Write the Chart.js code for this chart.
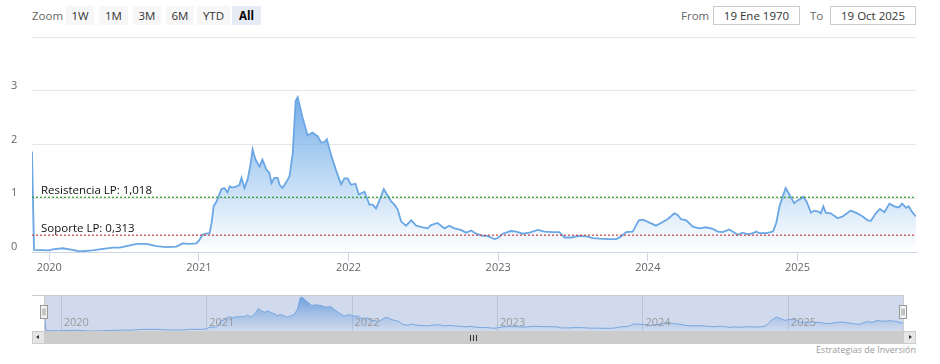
<!DOCTYPE html>
<html>
<head>
<meta charset="utf-8">
<script src="https://cdn.jsdelivr.net/npm/chart.js@4.4.0/dist/chart.umd.min.js"></script>
<style>
body { margin: 0; background: #fff; font-family: "Open Sans", sans-serif; }
#wrap { position: relative; width: 940px; height: 364px; overflow: hidden; }
.lbl { position: absolute; top: 6px; line-height: 19px; color: #666; font-size: 11.5px; }
.btn { position: absolute; top: 6px; height: 19px; line-height: 19px; background: #f7f7f7; color: #333; font-size: 11.5px; text-align: center; }
.btn.sel { background: #e6ebf5; color: #000; font-weight: bold; }
.inp { position: absolute; top: 6px; height: 17px; line-height: 17px; border: 1px solid #ccc; color: #333; font-size: 11.5px; text-align: center; }
#main { position: absolute; left: 0; top: 29px; width: 940px; height: 246px; }
#nav { position: absolute; left: 0; top: 285px; width: 940px; height: 46px; }
.sb { position: absolute; top: 331px; height: 13px; }
#credits { position: absolute; right: 24px; top: 343px; font-size: 9px; color: #999; }
</style>
</head>
<body>
<div id="wrap">
  <div class="lbl" style="left:32px">Zoom</div>
  <div class="btn" style="left:66px;width:28px">1W</div>
  <div class="btn" style="left:99px;width:29px">1M</div>
  <div class="btn" style="left:133px;width:28px">3M</div>
  <div class="btn" style="left:166px;width:28px">6M</div>
  <div class="btn" style="left:197px;width:33px">YTD</div>
  <div class="btn sel" style="left:232px;width:29px">All</div>

  <div class="lbl" style="left:681px">From</div>
  <div class="inp" style="left:713px;width:85px">19 Ene 1970</div>
  <div class="lbl" style="left:810px">To</div>
  <div class="inp" style="left:830px;width:84px">19 Oct 2025</div>

  <div id="main"><canvas id="chartMain"></canvas></div>
  <div id="nav"><canvas id="chartNav"></canvas></div>

  <div class="sb" style="left:32px;width:884px;background:#f2f2f2"></div>
  <div class="sb" style="left:44px;width:858px;background:#cccccc;border-left:1px solid #ccc"></div>
  <div class="sb" style="left:32px;width:11px;background:#e6e6e6;border:1px solid #ccc;height:11px">
    <div style="position:absolute;left:3px;top:3px;width:0;height:0;border-top:2.5px solid transparent;border-bottom:2.5px solid transparent;border-right:3px solid #333"></div>
  </div>
  <div class="sb" style="left:903px;width:11px;background:#e6e6e6;border:1px solid #ccc;height:11px">
    <div style="position:absolute;left:5px;top:3px;width:0;height:0;border-top:2.5px solid transparent;border-bottom:2.5px solid transparent;border-left:3px solid #333"></div>
  </div>
  <div style="position:absolute;left:470px;top:335px;width:1px;height:6px;background:#333"></div>
  <div style="position:absolute;left:473px;top:335px;width:1px;height:6px;background:#333"></div>
  <div style="position:absolute;left:476px;top:335px;width:1px;height:6px;background:#333"></div>

  <div id="credits">Estrategias de Inversión</div>
</div>

<script>
// precio (aprox.)
var dates = [
  '2019-11-20', '2019-11-25', '2020-01-01', '2020-01-09', '2020-02-03', '2020-02-27', '2020-03-15', '2020-04-16',
  '2020-05-03', '2020-06-04', '2020-06-21', '2020-07-08', '2020-08-02', '2020-08-26', '2020-09-19', '2020-10-14',
  '2020-11-07', '2020-11-22', '2020-12-09', '2020-12-26', '2021-01-02', '2021-01-10', '2021-01-19', '2021-01-27',
  '2021-02-01', '2021-02-06', '2021-02-13', '2021-02-18', '2021-02-25', '2021-03-04', '2021-03-12', '2021-03-17',
  '2021-03-24', '2021-04-03', '2021-04-10', '2021-04-15', '2021-04-22', '2021-04-30', '2021-05-07', '2021-05-12',
  '2021-05-19', '2021-05-29', '2021-06-05', '2021-06-15', '2021-06-22', '2021-06-27', '2021-07-04', '2021-07-12',
  '2021-07-17', '2021-07-24', '2021-08-03', '2021-08-10', '2021-08-18', '2021-08-25', '2021-08-30', '2021-09-11',
  '2021-09-23', '2021-10-05', '2021-10-18', '2021-10-26', '2021-11-03', '2021-11-09', '2021-11-20', '2021-12-02',
  '2021-12-14', '2021-12-22', '2021-12-30', '2022-01-07', '2022-01-18', '2022-01-26', '2022-02-09', '2022-02-21',
  '2022-03-01', '2022-03-09', '2022-03-17', '2022-03-28', '2022-04-04', '2022-04-15', '2022-04-23', '2022-05-01',
  '2022-05-09', '2022-05-21', '2022-06-03', '2022-06-15', '2022-07-01', '2022-07-13', '2022-07-21', '2022-08-06',
  '2022-08-23', '2022-09-04', '2022-09-16', '2022-10-02', '2022-10-15', '2022-10-27', '2022-11-08', '2022-11-24',
  '2022-12-06', '2022-12-23', '2022-12-31', '2023-01-12', '2023-02-01', '2023-02-14', '2023-03-02', '2023-03-18',
  '2023-04-08', '2023-04-24', '2023-05-14', '2023-05-30', '2023-06-12', '2023-06-28', '2023-07-18', '2023-08-04',
  '2023-08-20', '2023-09-05', '2023-09-29', '2023-10-16', '2023-10-28', '2023-11-09', '2023-11-25', '2023-12-10',
  '2023-12-20', '2024-01-01', '2024-01-21', '2024-02-02', '2024-02-18', '2024-03-06', '2024-03-14', '2024-03-22',
  '2024-04-04', '2024-04-20', '2024-05-06', '2024-05-22', '2024-06-08', '2024-06-20', '2024-07-02', '2024-07-18',
  '2024-08-08', '2024-08-20', '2024-09-02', '2024-09-14', '2024-09-22', '2024-09-30', '2024-10-17', '2024-11-02',
  '2024-11-10', '2024-11-18', '2024-11-26', '2024-12-03', '2024-12-12', '2024-12-24', '2025-01-01', '2025-01-09',
  '2025-01-15', '2025-01-23', '2025-02-03', '2025-02-11', '2025-02-21', '2025-02-27', '2025-03-05', '2025-03-11',
  '2025-03-23', '2025-04-09', '2025-04-21', '2025-05-11', '2025-05-27', '2025-06-09', '2025-06-21', '2025-06-29',
  '2025-07-11', '2025-07-21', '2025-08-01', '2025-08-13', '2025-08-25', '2025-09-05', '2025-09-13', '2025-09-23',
  '2025-09-29', '2025-10-07', '2025-10-17'
];
var values = [
  1.87, 0.04, 0.03, 0.05, 0.07, 0.04, 0.01, 0.03,
  0.05, 0.08, 0.08, 0.11, 0.15, 0.15, 0.11, 0.09,
  0.10, 0.16, 0.15, 0.16, 0.22, 0.32, 0.34, 0.35,
  0.54, 0.85, 0.94, 1.03, 1.17, 1.19, 1.11, 1.22,
  1.20, 1.22, 1.25, 1.38, 1.19, 1.35, 1.63, 1.91,
  1.72, 1.59, 1.72, 1.53, 1.47, 1.28, 1.38, 1.38,
  1.25, 1.19, 1.31, 1.41, 1.84, 2.81, 2.88, 2.50,
  2.17, 2.22, 2.15, 2.04, 2.04, 2.10, 1.79, 1.51,
  1.26, 1.37, 1.37, 1.25, 1.27, 1.07, 1.12, 0.88,
  0.88, 0.81, 0.95, 1.17, 1.08, 0.94, 0.88, 0.79,
  0.57, 0.49, 0.59, 0.49, 0.46, 0.44, 0.50, 0.54,
  0.44, 0.49, 0.44, 0.41, 0.36, 0.40, 0.34, 0.30,
  0.30, 0.24, 0.26, 0.34, 0.39, 0.38, 0.34, 0.36,
  0.41, 0.38, 0.37, 0.37, 0.27, 0.27, 0.30, 0.29,
  0.26, 0.25, 0.24, 0.24, 0.29, 0.37, 0.38, 0.59,
  0.60, 0.56, 0.49, 0.54, 0.61, 0.72, 0.69, 0.61,
  0.59, 0.47, 0.44, 0.46, 0.43, 0.38, 0.37, 0.42,
  0.32, 0.36, 0.33, 0.35, 0.38, 0.35, 0.35, 0.38,
  0.54, 0.85, 1.03, 1.19, 1.07, 0.91, 0.96, 0.99,
  1.03, 0.94, 0.73, 0.77, 0.75, 0.72, 0.85, 0.73,
  0.72, 0.63, 0.66, 0.77, 0.72, 0.66, 0.59, 0.58,
  0.72, 0.80, 0.74, 0.90, 0.85, 0.83, 0.90, 0.82,
  0.85, 0.75, 0.66
];

var levelNames = ['Resistencia LP', 'Soporte LP'];
var levelValues = [1.018, 0.313];

var yearTicks = [2020, 2021, 2022, 2023, 2024, 2025];
var yearLabels = ['2020', '2021', '2022', '2023', '2024', '2025'];
var yTicks = [0, 1, 2, 3, 4];
var yLabels = ['0', '1', '2', '3', ''];

function toYear(s) {
  var d = Date.parse(s + 'T00:00:00Z');
  var y = parseInt(s.slice(0, 4), 10);
  var a = Date.UTC(y, 0, 1), b = Date.UTC(y + 1, 0, 1);
  return y + (d - a) / (b - a);
}

var points = dates.map(function (d, i) { return { x: toYear(d), y: values[i] }; });
var xMin = points[0].x;
var xMax = points[points.length - 1].x;
var vMax = Math.max.apply(null, values);
var vMin = Math.min.apply(null, values);

function areaFill(c) {
  var ch = c.chart;
  if (!ch.chartArea) return 'rgba(124,181,236,0.4)';
  var top = ch.scales.y.getPixelForValue(vMax);
  var g = ch.ctx.createLinearGradient(0, top, 0, ch.chartArea.bottom);
  g.addColorStop(0, 'rgba(118,174,232,1)');
  g.addColorStop(1, 'rgba(124,181,236,0)');
  return g;
}

function fmt(v) { return v.toFixed(3).replace('.', ','); }

var levelColors = ['#2f9a2f', '#cc3d3d'];
var levelSets = levelValues.map(function (v, i) {
  return {
    data: [{ x: xMin, y: v }, { x: xMax, y: v }],
    borderColor: levelColors[i],
    borderWidth: 1.2,
    borderDash: [2, 2],
    pointRadius: 0,
    fill: false
  };
});

var levelText = {
  id: 'levelText',
  afterDatasetsDraw: function (ch) {
    var ctx = ch.ctx, a = ch.chartArea, y = ch.scales.y;
    ctx.save();
    ctx.font = '11.5px "Open Sans"';
    ctx.fillStyle = '#111';
    ctx.textBaseline = 'middle';
    levelValues.forEach(function (v, i) {
      ctx.fillText(levelNames[i] + ': ' + fmt(v), a.left + 9, y.getPixelForValue(v) - 6.5);
    });
    ctx.restore();
  }
};

Chart.defaults.font.family = '"Open Sans", sans-serif';

var chart = new Chart(document.getElementById('chartMain').getContext('2d'), {
  type: 'line',
  data: {
    datasets: levelSets.concat([{
      data: points,
      borderColor: '#6aa7e4',
      borderWidth: 1.8,
      backgroundColor: areaFill,
      fill: 'origin',
      pointRadius: 0,
      tension: 0
    }])
  },
  options: {
    responsive: true,
    maintainAspectRatio: false,
    animation: false,
    events: [],
    layout: { padding: { left: 11, right: 24, top: 8, bottom: 0 } },
    plugins: { legend: { display: false }, tooltip: { enabled: false } },
    scales: {
      x: {
        type: 'linear',
        min: xMin,
        max: xMax,
        afterBuildTicks: function (s) { s.ticks = yearTicks.map(function (t) { return { value: t }; }); },
        afterFit: function (s) { s.height = 23; s.paddingLeft = 0; s.paddingRight = 0; },
        ticks: {
          autoSkip: false,
          maxRotation: 0,
          padding: 0,
          color: '#666',
          font: { size: 11 },
          callback: function (v) { return yearLabels[yearTicks.indexOf(v)]; }
        },
        grid: { display: true, drawOnChartArea: false, drawTicks: true, tickLength: 9, color: '#ccd6eb' },
        border: { display: true, color: '#ccd6eb', width: 1 }
      },
      y: {
        min: 0,
        max: 4,
        afterBuildTicks: function (s) { s.ticks = yTicks.map(function (t) { return { value: t }; }); },
        afterFit: function (s) { s.width = 21; s.paddingTop = 0; s.paddingBottom = 0; },
        ticks: {
          crossAlign: 'far',
          padding: 0,
          labelOffset: -5,
          color: '#666',
          font: { size: 11 },
          callback: function (v) { return yLabels[yTicks.indexOf(v)]; }
        },
        grid: { color: '#e6e6e6', drawTicks: false, tickLength: 0 },
        border: { display: false }
      }
    }
  },
  plugins: [levelText]
});

// navegador
var navDecor = {
  id: 'navDecor',
  beforeDatasetsDraw: function (ch) {
    var ctx = ch.ctx, a = ch.chartArea, x = ch.scales.x;
    ctx.save();
    ctx.strokeStyle = '#e0e0e0';
    ctx.lineWidth = 1;
    yearTicks.forEach(function (t) {
      var px = Math.round(x.getPixelForValue(t)) + 0.5;
      ctx.beginPath(); ctx.moveTo(px, a.top); ctx.lineTo(px, a.bottom); ctx.stroke();
    });
    ctx.restore();
  },
  afterDatasetsDraw: function (ch) {
    var ctx = ch.ctx, a = ch.chartArea, x = ch.scales.x;
    ctx.save();
    ctx.fillStyle = 'rgba(102,133,194,0.3)';
    ctx.fillRect(a.left, a.top, a.right - a.left, a.bottom - a.top);

    ctx.font = '11px "Open Sans"';
    ctx.fillStyle = '#999';
    ctx.textBaseline = 'middle';
    yearTicks.forEach(function (t, i) {
      ctx.fillText(yearLabels[i], x.getPixelForValue(t) + 3, a.bottom - 8);
    });

    ctx.strokeStyle = '#cccccc';
    ctx.lineWidth = 1;
    ctx.beginPath();
    ctx.moveTo(32, a.top + 0.5); ctx.lineTo(Math.round(a.right) + 0.5, a.top + 0.5);
    ctx.moveTo(Math.round(a.left) + 0.5, a.top); ctx.lineTo(Math.round(a.left) + 0.5, a.bottom);
    ctx.moveTo(Math.round(a.right) + 0.5, a.top); ctx.lineTo(Math.round(a.right) + 0.5, a.bottom);
    ctx.stroke();

    [x.getPixelForValue(xMin), x.getPixelForValue(xMax)].forEach(function (px) {
      var hx = Math.round(px) - 3.5, hy = a.top + 10.5;
      ctx.fillStyle = '#f2f2f2';
      ctx.strokeStyle = '#999';
      ctx.fillRect(hx, hy, 7, 13);
      ctx.strokeRect(hx, hy, 7, 13);
      ctx.beginPath();
      ctx.moveTo(hx + 2.5, hy + 3); ctx.lineTo(hx + 2.5, hy + 10);
      ctx.moveTo(hx + 4.5, hy + 3); ctx.lineTo(hx + 4.5, hy + 10);
      ctx.stroke();
    });
    ctx.restore();
  }
};

var nav = new Chart(document.getElementById('chartNav').getContext('2d'), {
  type: 'line',
  data: {
    datasets: [{
      data: points,
      borderColor: '#7cb5ec',
      borderWidth: 1,
      backgroundColor: areaFill,
      fill: 'origin',
      pointRadius: 0,
      tension: 0
    }]
  },
  options: {
    responsive: true,
    maintainAspectRatio: false,
    animation: false,
    events: [],
    layout: { padding: { left: 44, right: 37, top: 10, bottom: 0 } },
    plugins: { legend: { display: false }, tooltip: { enabled: false } },
    scales: {
      x: { type: 'linear', display: false, min: xMin, max: xMax },
      y: { display: false, min: vMin, max: vMax * 1.06 }
    }
  },
  plugins: [navDecor]
});
</script>
</body>
</html>
